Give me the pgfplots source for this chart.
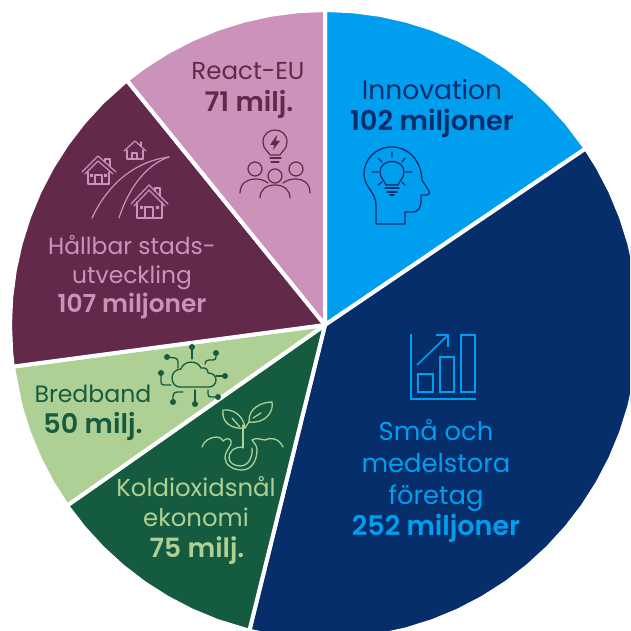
\documentclass[border=0pt]{standalone}
\usepackage{fontspec}
\setmainfont{Poppins}[BoldFont={Poppins SemiBold}]
\usepackage{pgfplots}
\pgfplotsset{compat=1.18}
\usepgfplotslibrary{polar}
\definecolor{cblue}{HTML}{009EEF}
\definecolor{cnavy}{HTML}{052E6B}
\definecolor{cburg}{HTML}{62294B}
\definecolor{cpink}{HTML}{CC93BA}
\definecolor{clgreen}{HTML}{AFD095}
\definecolor{cdgreen}{HTML}{155B3F}
\newcommand{\lab}[5]{\node[anchor=base,text=#4,font=\fontsize{#5}{#5}\selectfont,inner sep=0pt] at (#1,#2) {#3};}
\newcommand{\labb}[5]{\node[anchor=base,text=#4,font=\fontsize{#5}{#5}\selectfont\bfseries,inner sep=0pt] at (#1,#2) {#3};}
\begin{document}
\begin{tikzpicture}
\path[use as bounding box] (0,0) rectangle (630pt,631pt);
\begin{axis}[at={(0,0)},anchor=south west,scale only axis,width=630pt,height=631pt,xmin=-325,xmax=305,ymin=-306,ymax=325,
  hide axis,clip=true,data cs=polar]
\pgfplotsset{every axis plot/.append style={draw=white,line width=4pt,line join=miter}}
% Innovation 102
\addplot[fill=cblue] coordinates {(0,0)(90,315)(85,315)(80,315)(75,315)(70,315)(65,315)(60,315)(55,315)(50,315)(45,315)(40,315)(34.1,315)(0,0)};
% Sma och medelstora foretag 252
\addplot[fill=cnavy] coordinates {(0,0)(34.1,315)(30,315)(25,315)(20,315)(15,315)(10,315)(5,315)(0,315)(-5,315)(-10,315)(-15,315)(-20,315)(-25,315)(-30,315)(-35,315)(-40,315)(-45,315)(-50,315)(-55,315)(-60,315)(-65,315)(-70,315)(-75,315)(-80,315)(-85,315)(-90,315)(-95,315)(-100,315)(-103.9,315)(0,0)};
% Koldioxidsnal ekonomi 75
\addplot[fill=cdgreen] coordinates {(0,0)(-103.9,315)(-110,315)(-115,315)(-120,315)(-125,315)(-130,315)(-135,315)(-140,315)(-145,315)(0,0)};
% Bredband 50
\addplot[fill=clgreen] coordinates {(0,0)(-145,315)(-150,315)(-155,315)(-160,315)(-165,315)(-172.4,315)(0,0)};
% Hallbar stadsutveckling 107
\addplot[fill=cburg] coordinates {(0,0)(-172.4,315)(-175,315)(-180,315)(-185,315)(-190,315)(-195,315)(-200,315)(-205,315)(-210,315)(-215,315)(-220,315)(-225,315)(-231,315)(0,0)};
% React-EU 71
\addplot[fill=cpink] coordinates {(0,0)(-231,315)(-235,315)(-240,315)(-245,315)(-250,315)(-255,315)(-260,315)(-265,315)(-270,315)(0,0)};
\end{axis}
\begin{scope}[x=1pt,y=-1pt,yshift=631pt,line cap=round,line join=round]
% texts
\lab{432}{100}{Innovation}{cnavy}{26.5}
\labb{432}{131}{102 miljoner}{cnavy}{27.2}
\lab{248}{80}{React-EU}{cburg}{24.5}
\labb{249}{112}{71 milj.}{cburg}{27}
\lab{436}{441}{Små och}{cblue}{25.8}
\lab{436}{473}{medelstora}{cblue}{25.8}
\lab{436}{505}{företag}{cblue}{25.8}
\labb{436}{536}{252 miljoner}{cblue}{27}
\lab{132}{255}{Hållbar stads-}{cpink}{23.4}
\lab{132}{284}{utveckling}{cpink}{23.4}
\labb{132}{313}{107 miljoner}{cpink}{24.8}
\lab{93}{403}{Bredband}{cdgreen}{23.6}
\labb{93}{434}{50 milj.}{cdgreen}{27}
\lab{196}{497}{Koldioxidsnål}{clgreen}{24.4}
\lab{196}{527}{ekonomi}{clgreen}{24.4}
\labb{197}{558}{75 milj.}{clgreen}{26.5}
% head icon
\begin{scope}[draw=cnavy,line width=1.3pt]
\draw (376,224)--(405,224)--(405,212)--(412,212) .. controls (419,212) and (421,207) .. (421,201) -- (421,195) -- (427,195) .. controls (430,194) and (430,192) .. (429,191) -- (422,180) .. controls (421,160) and (408,147) .. (392,147) .. controls (375,147) and (364,160) .. (364,174) .. controls (364,187) and (376,192) .. (376,205) -- cycle;
\draw (386,185) .. controls (384,180) and (380,178) .. (380,172) .. controls (380,158) and (404,158) .. (404,172) .. controls (404,178) and (400,180) .. (398,185) -- cycle;
\draw (385,188)--(399,188) (387,192)--(397,192) (390,195)--(394,195);
\draw (392,152)--(392,157) (405,158)--(402,162) (406,172)--(412,172) (402,182)--(405,185) (378,172)--(372,172) (382,162)--(378,158) (382,182)--(378,185);
\end{scope}
% chart icon
\begin{scope}[draw=cblue,line width=1.6pt,line cap=butt,line join=miter]
\draw (411,334)--(411,399)--(476,399);
\draw (418,374) rectangle (433,392);
\draw (440,357) rectangle (454,392);
\draw (461,335) rectangle (475,392);
\draw (417,365)--(448,335) (436,335)--(448,335)--(448,347);
\end{scope}
% react icon
\begin{scope}[draw=cburg,line width=1.2pt]
\draw (270,155) .. controls (268,151) and (263,149) .. (263,142) .. controls (263,126) and (287,126) .. (287,142) .. controls (287,149) and (282,151) .. (280,155) -- cycle;
\draw (270,158)--(281,158) (271,162)--(279,162);
\fill[cburg] (277,135)--(270,145)--(274,145)--(273,150)--(280,141)--(276,141)--cycle;
\draw (255,169) circle [radius=7pt];
\draw (296,169) circle [radius=7pt];
\draw (275,176) circle [radius=7pt];
\draw (240,193) .. controls (240,183) and (248,179) .. (255,179) .. controls (260,179) and (264,180) .. (268,183);
\draw (310,193) .. controls (310,183) and (303,179) .. (296,179) .. controls (291,179) and (287,180) .. (283,183);
\draw (260,198) .. controls (260,190) and (266,185) .. (275,185) .. controls (284,185) and (290,190) .. (290,198);
\end{scope}
% houses and road
\begin{scope}[draw=cpink,line width=1.2pt]
\draw (169,157) .. controls (130,162) and (105,190) .. (92,218);
\draw (169,157) .. controls (145,165) and (128,190) .. (119,218);
\draw (131,204)--(149,185)--(168,204) (134,206)--(149,190)--(165,206);
\draw (137,202)--(137,218)--(162,218)--(162,202);
\draw (145,218)--(145,207)--(153,207)--(153,218);
\fill[cpink] (140,206) rectangle (143,209) (156,206) rectangle (159,209);
\draw (155,191)--(155,188)--(160,188)--(160,196);
\draw (82,172)--(98,156)--(116,172) (85,174)--(98,161)--(113,174);
\draw (88,172)--(88,184)--(109,184)--(109,172);
\draw (95,184)--(95,175)--(102,175)--(102,184);
\fill[cpink] (90,174) rectangle (93,177) (104,174) rectangle (107,177);
\draw (105,161)--(105,159)--(110,159)--(110,166);
\draw (124,151)--(135,141)--(146,151);
\draw (127,150)--(127,159)--(143,159)--(143,150);
\draw (132,159)--(132,153)--(137,153)--(137,159);
\draw (141,142)--(141,146);
\end{scope}
% cloud
\begin{scope}[draw=cdgreen,line width=1.3pt]
\draw (180,387) .. controls (175,387) and (172,383) .. (172,378) .. controls (172,373) and (176,369) .. (181,369) .. controls (183,361) and (197,359) .. (201,368) .. controls (206,367) and (208,370) .. (208,373) .. controls (213,373) and (216,376) .. (216,380) .. controls (216,384) and (213,387) .. (209,387) -- cycle;
\draw (192,347)--(192,359);
\draw (216,353)--(216,357) .. controls (216,359) and (215,360) .. (213,360) -- (209,360) .. controls (207,360) and (205,361) .. (205,364);
\draw (225,376)--(216,376);
\draw (167,357)--(175,358) .. controls (177,358) and (178,360) .. (178,362) -- (178,368);
\draw (161,373)--(161,382) .. controls (161,384) and (162,385) .. (164,385) -- (171,385);
\draw (173,402)--(173,396) .. controls (173,393) and (175,392) .. (177,392) -- (183,392);
\draw (195,404)--(195,390);
\draw (218,397)--(211,397) .. controls (209,397) and (208,396) .. (208,394) -- (208,390);
\fill[cdgreen] (192,347) circle [radius=3pt] (216,353) circle [radius=3pt] (225,376) circle [radius=3pt] (167,357) circle [radius=3pt] (161,373) circle [radius=3pt] (173,402) circle [radius=3pt] (195,404) circle [radius=3pt] (218,397) circle [radius=3pt];
\end{scope}
% sprout
\begin{scope}[draw=clgreen,line width=1.3pt]
\draw (243,448)--(243,425);
\draw (223,410) .. controls (232,409) and (243,414) .. (245,428) .. controls (232,430) and (221,422) .. (223,410);
\draw (232,418)--(240,427);
\draw (249,422) .. controls (248,408) and (262,402) .. (272,402) .. controls (274,412) and (265,424) .. (249,422);
\draw (253,418)--(261,413) (245,428)--(249,422);
\draw (202,447) .. controls (204,441) and (210,437) .. (217,437) .. controls (220,437) and (222,439) .. (223,441) .. controls (226,438) and (230,438) .. (231,441) .. controls (233,445) and (225,450) .. (225,458) .. controls (225,465) and (233,470) .. (242,470) .. controls (252,470) and (257,460) .. (257,450) .. controls (257,445) and (254,443) .. (252,440) .. controls (256,437) and (262,440) .. (265,440) .. controls (270,437) and (279,438) .. (283,447);
\draw (243,447) .. controls (233,447) and (229,452) .. (229,458) .. controls (229,463) and (235,466) .. (240,466) .. controls (249,466) and (253,456) .. (252,448);
\end{scope}
\end{scope}
\end{tikzpicture}
\end{document}
